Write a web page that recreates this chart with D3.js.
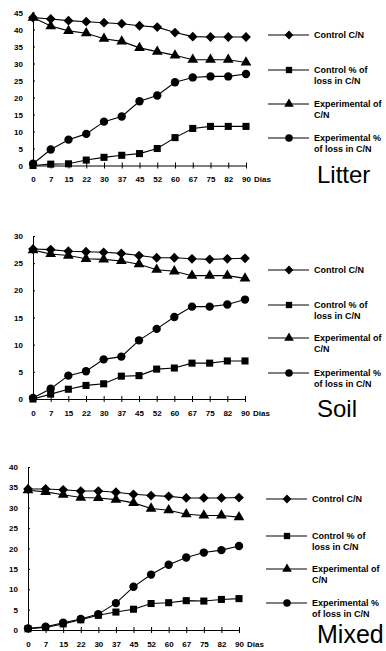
<!DOCTYPE html>
<html>
<head>
<meta charset="utf-8">
<script src="https://cdn.jsdelivr.net/npm/d3@7"></script>
<style>
  body { margin: 0; background: #fff; }
  svg { display: block; font-family: "Liberation Sans", Arial, sans-serif; }
</style>
</head>
<body>
<div id="chart"></div>
<script>
// days (categories on x)
const days = ["0", "7", "15", "22", "30", "37", "45", "52", "60", "67", "75", "82", "90"];

// Litter
const litterControlCN = [43.5, 43.1, 42.6, 42.3, 42.0, 41.7, 41.1, 40.7, 39.1, 37.9, 37.8, 37.8, 37.8];
const litterControlLoss = [0, 0.4, 0.5, 1.6, 2.4, 3.0, 3.5, 5.0, 8.2, 10.9, 11.5, 11.5, 11.5];
const litterExpCN = [43.5, 41.0, 39.6, 38.9, 37.3, 36.5, 34.6, 33.5, 32.4, 31.1, 31.1, 31.1, 30.3];
const litterExpLoss = [0.5, 4.7, 7.6, 9.3, 12.9, 14.4, 18.9, 20.6, 24.5, 25.9, 26.2, 26.2, 26.9];

// Soil
const soilControlCN = [27.6, 27.5, 27.2, 27.1, 27.0, 26.8, 26.4, 26.0, 26.0, 25.8, 25.7, 25.8, 25.9];
const soilControlLoss = [0, 0.9, 1.8, 2.5, 2.8, 4.2, 4.3, 5.5, 5.7, 6.6, 6.6, 7.0, 7.0];
const soilExpCN = [27.4, 26.7, 26.4, 25.8, 25.7, 25.4, 24.8, 23.8, 23.5, 22.7, 22.7, 22.7, 22.2];
const soilExpLoss = [0.2, 1.9, 4.3, 5.1, 7.3, 7.8, 10.8, 12.9, 15.1, 17.0, 17.0, 17.4, 18.3];

// Mixed
const mixedControlCN = [34.6, 34.6, 34.4, 34.1, 34.1, 33.8, 33.3, 33.0, 32.8, 32.4, 32.4, 32.4, 32.5];
const mixedControlLoss = [0.3, 0.6, 1.5, 2.5, 3.6, 4.4, 5.1, 6.5, 6.7, 7.2, 7.1, 7.5, 7.7];
const mixedExpCN = [34.3, 33.9, 33.2, 32.5, 32.4, 32.0, 31.2, 29.8, 29.4, 28.4, 28.1, 28.1, 27.7];
const mixedExpLoss = [0.4, 0.8, 1.8, 2.7, 3.9, 6.6, 10.6, 13.6, 16.0, 17.8, 19.0, 19.6, 20.6];

const legendLabels = [
    ["Control C/N"],
    ["Control % of", "loss in C/N"],
    ["Experimental of", "C/N"],
    ["Experimental %", "of loss in C/N"]
];
// diamond = square turned 45 degrees
const seriesSymbols = [d3.symbolSquare, d3.symbolSquare, d3.symbolTriangle, d3.symbolCircle];
const symbolSizes = [48, 50, 50, 55];
const symbolRotate = [45, 0, 0, 0];

const svg = d3.select("#chart")
    .append("svg")
    .attr("width", 386)
    .attr("height", 651);

function drawPanel(p) {
    const x = d3.scalePoint()
        .domain(days)
        .range([p.x0, p.x1]);

    const y = d3.scaleLinear()
        .domain([0, p.yMax])
        .range([p.yBottom, p.yTop]);

    const g = svg.append("g");

    // Y axis
    const yAxis = g.append("g")
        .attr("transform", `translate(${p.x0},0)`)
        .call(d3.axisLeft(y).tickValues(d3.range(0, p.yMax + 1, 5)).tickSize(4).tickPadding(6).tickSizeOuter(0));
    yAxis.select(".domain").attr("stroke", "#000");
    yAxis.selectAll(".tick line").attr("x2", 2).attr("stroke", "#000");
    yAxis.selectAll("text")
        .style("font-size", "8px")
        .style("font-weight", "bold")
        .attr("fill", "#000");

    // X axis
    const xAxis = g.append("g")
        .attr("transform", `translate(0,${p.yBottom})`)
        .call(d3.axisBottom(x).tickSize(3).tickPadding(8).tickSizeOuter(0));
    xAxis.select(".domain").attr("stroke", "#000");
    xAxis.selectAll(".tick line").attr("y1", -3).attr("stroke", "#000");
    xAxis.selectAll("text")
        .style("font-size", "8px")
        .style("font-weight", "bold")
        .attr("fill", "#000");

    g.append("text")
        .attr("x", p.x1 + 8)
        .attr("y", p.yBottom + 11 + 8 * 0.71)
        .style("font-size", "8px")
        .style("font-weight", "bold")
        .text("Dias");

    // Series
    const line = d3.line()
        .x((d, i) => x(days[i]))
        .y(d => y(d));

    p.series.forEach((s, k) => {
        g.append("path")
            .datum(s)
            .attr("fill", "none")
            .attr("stroke", "#000")
            .attr("stroke-width", 1.1)
            .attr("d", line);
        g.selectAll(null)
            .data(s)
            .join("path")
            .attr("transform", (d, i) => `translate(${x(days[i])},${y(d)}) rotate(${symbolRotate[k]})`)
            .attr("d", d3.symbol().type(seriesSymbols[k]).size(symbolSizes[k]))
            .attr("fill", "#000");
    });

    // Legend
    p.legendY.forEach((ly, k) => {
        g.append("line")
            .attr("x1", p.legX)
            .attr("x2", p.legX + 41)
            .attr("y1", ly)
            .attr("y2", ly)
            .attr("stroke", "#000")
            .attr("stroke-width", 1);
        g.append("path")
            .attr("transform", `translate(${p.legX + 21},${ly}) rotate(${symbolRotate[k]})`)
            .attr("d", d3.symbol().type(seriesSymbols[k]).size(symbolSizes[k] * 0.8))
            .attr("fill", "#000");
        const t = g.append("text")
            .attr("x", p.legX + 46)
            .attr("y", ly + 3)
            .style("font-size", "9px")
            .style("font-weight", "bold");
        legendLabels[k].forEach((txt, j) => {
            t.append("tspan")
                .attr("x", p.legX + 46)
                .attr("dy", j === 0 ? 0 : 10.5)
                .text(txt);
        });
    });

    // Panel title
    g.append("text")
        .attr("x", 317)
        .attr("y", p.titleY)
        .style("font-size", p.titleSize)
        .text(p.title);
}

drawPanel({
    title: "Litter", titleY: 183, titleSize: "24px",
    x0: 33, x1: 246, yBottom: 165.5, yTop: 12.5, yMax: 45,
    legX: 268, legendY: [35, 70, 104, 138],
    series: [litterControlCN, litterControlLoss, litterExpCN, litterExpLoss]
});

drawPanel({
    title: "Soil", titleY: 417, titleSize: "24px",
    x0: 33, x1: 245, yBottom: 399, yTop: 236, yMax: 30,
    legX: 268, legendY: [270, 305, 338, 373],
    series: [soilControlCN, soilControlLoss, soilExpCN, soilExpLoss]
});

drawPanel({
    title: "Mixed", titleY: 643, titleSize: "25px",
    x0: 28, x1: 239, yBottom: 630, yTop: 467, yMax: 40,
    legX: 266, legendY: [499, 536, 569, 603],
    series: [mixedControlCN, mixedControlLoss, mixedExpCN, mixedExpLoss]
});
</script>
</body>
</html>
